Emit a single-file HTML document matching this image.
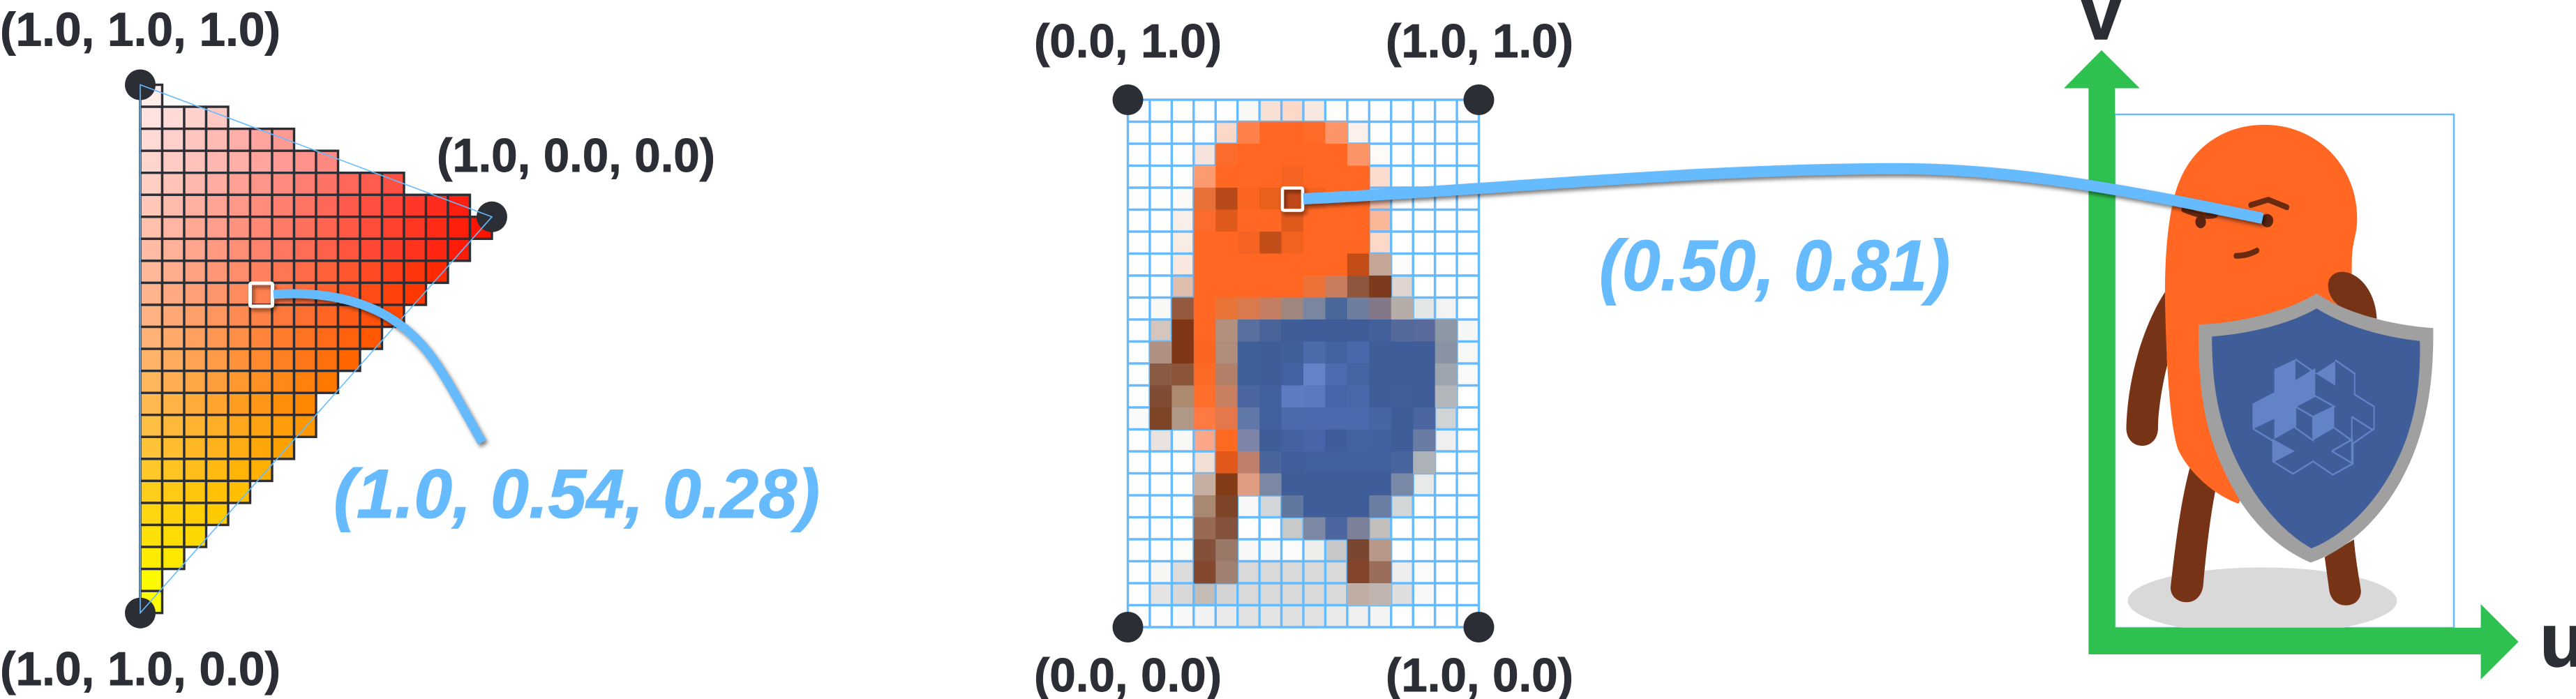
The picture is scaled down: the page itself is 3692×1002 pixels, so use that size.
<!DOCTYPE html>
<html lang="en">
<head>
<meta charset="utf-8">
<title>UV interpolation diagram</title>
<style>
html,body{margin:0;padding:0;background:#fff;}
svg{display:block;}
text{font-family:"Liberation Sans",sans-serif;font-weight:bold;}
.lab{font-size:68px;fill:#2C2E35;stroke:#2C2E35;stroke-width:.9px;}
.blue{font-style:italic;fill:#66BBFF;stroke:#66BBFF;stroke-width:1px;}
.axl{fill:#2C2E35;stroke:#2C2E35;stroke-width:1.5px;}
</style>
</head>
<body>
<svg id="root" xmlns="http://www.w3.org/2000/svg" width="3692" height="1002" viewBox="0 0 3692 1002">
<rect width="3692" height="1002" fill="#fff"/>
<g id="tri"></g>
<g id="pix"></g>

<g>
  <rect x="3031" y="164" width="486" height="736" fill="none" stroke="#66BBFF" stroke-width="2.5"/>
  <g transform="translate(2900,0) scale(0.50505,0.63898)">
    <ellipse cx="678" cy="1348" rx="382" ry="75" fill="#D9D9D9"/>
    <path fill="#763316" d="M402 655C340 730 295 850 292 960C292 985 312 1000 337 1000C362 1000 382 985 382 960C382 920 395 860 408 820Z"/>
    <path fill="#763316" d="M472 1050C445 1130 430 1230 418 1315C415 1335 435 1351 463 1351C490 1351 506 1335 510 1315C518 1240 530 1160 545 1100Z"/>
    <path fill="#763316" d="M855 1250L868 1325C872 1345 890 1358 915 1358C945 1358 962 1340 957 1320C950 1285 942 1250 938 1210Z"/>
    <path fill="#FF6723" d="M432 430C470 330 570 280 685 280C830 280 947 370 947 490C947 530 932 540 932 590L930 700L610 1130C540 1110 470 1060 440 1010C415 960 405 800 402 680C400 580 410 490 432 430Z"/>
    <path fill="#763316" d="M865 645C862 620 885 608 910 610C960 615 1000 660 1003 715L920 700C890 685 868 670 865 645Z"/>
    <g fill="none" stroke="#6A2A10" stroke-linecap="round">
      <path d="M455 470C480 478 520 490 545 482" stroke-width="13"/>
      <path d="M645 460L695 448L748 465" stroke-width="13"/>
      <path d="M603 574C625 574 645 570 663 562" stroke-width="13"/>
      <ellipse cx="503" cy="498" rx="15" ry="14" fill="#5A2410" stroke="none"/>
      <ellipse cx="692" cy="495" rx="17" ry="15" fill="#5A2410" stroke="none"/>
    </g>
    <g>
      <path fill="#A0A0A0" d="M832 658C760 695 620 725 497 728C495 900 520 1000 620 1130C680 1200 750 1240 815 1262C900 1240 1000 1180 1070 1080C1140 980 1165 870 1163 736C1040 730 910 700 832 658Z"/>
      <path fill="#3F5D98" d="M832 692C760 725 650 748 535 755C535 880 560 980 640 1085C690 1150 750 1200 817 1230C900 1205 990 1140 1050 1050C1110 960 1128 870 1125 765C1010 755 910 730 832 692Z"/>
      <g>
        <polygon fill="#6383C8" points="652,905 712,880 712,828 772,806 772,853 828,826 828,888 772,912 772,958 712,985 712,940 652,962"/>
        <polygon fill="#6383C8" points="830,838 885,810 885,865"/>
        <polygon fill="#6383C8" points="708,985 770,1012 708,1038"/>
        <polygon fill="#6383C8" points="822,935 882,912 882,960 822,988"/>
        <path fill="none" stroke="#6383C8" stroke-width="4" d="M772 806L830 838M885 808L940 838V885L995 912V962L935 995V1040L878 1065L822 1035L765 1063L708 1035V985M652 962L710 990M932 935L992 965M932 935V1040M875 1012L935 985M875 1012L935 1040M882 960L935 990M772 912L828 888L882 912L822 935ZM772 912V960L822 988V935M652 905V962"/>
      </g>
    </g>
  </g>
  <path fill="#2FC14F" d="M2993.4 938V126.5H2958L3012 72L3066.7 126.5H3031.3V899.7H3555.5V866L3609.6 920L3555.5 974V938Z"/>
  <text class="axl" x="2983" y="56" font-size="105" textLength="57" lengthAdjust="spacingAndGlyphs">v</text>
  <text class="axl" x="3640" y="955" font-size="108">u</text>
</g>

<g>
  <text class="lab" x="0" y="65.5" textLength="402" lengthAdjust="spacingAndGlyphs">(1.0, 1.0, 1.0)</text>
  <text class="lab" x="626" y="246" textLength="399" lengthAdjust="spacingAndGlyphs">(1.0, 0.0, 0.0)</text>
  <text class="lab" x="0" y="982" textLength="402" lengthAdjust="spacingAndGlyphs">(1.0, 1.0, 0.0)</text>
  <text class="blue" x="478" y="742" font-size="99" textLength="697" lengthAdjust="spacingAndGlyphs">(1.0, 0.54, 0.28)</text>
</g>
<g>
  <text class="lab" x="1482" y="82" textLength="269" lengthAdjust="spacingAndGlyphs">(0.0, 1.0)</text>
  <text class="lab" x="1986" y="82" textLength="269" lengthAdjust="spacingAndGlyphs">(1.0, 1.0)</text>
  <text class="lab" x="1482" y="991" textLength="269" lengthAdjust="spacingAndGlyphs">(0.0, 0.0)</text>
  <text class="lab" x="1986" y="991" textLength="269" lengthAdjust="spacingAndGlyphs">(1.0, 0.0)</text>
  <text class="blue" x="2292" y="416" font-size="103" textLength="503" lengthAdjust="spacingAndGlyphs">(0.50, 0.81)</text>
</g>

<g fill="none" stroke="#66BBFF" style="filter:drop-shadow(3px 4px 3px rgba(0,0,0,.5))">
  <rect x="358.5" y="406" width="32" height="33" rx="2" stroke="#fff" stroke-width="5"/>
  <rect x="1838" y="269.5" width="29" height="32" rx="2" stroke="#fff" stroke-width="4.5"/>
  <path stroke-width="13" d="M392 422C450 418 520 425 574 466C620 500 640 545 691 634"/>
  <path stroke-width="16" d="M1868 285C2150 272 2450 240 2740 242C2900 244 3060 275 3243 313"/>
</g>
</svg>

<script>
const NS = 'http://www.w3.org/2000/svg';

/* ---- color triangle data ---- */
const triRowCells = [1,4,7,9,12,15,16,15,14,13,12,11,10,9,8,8,7,6,5,4,3,2,1,1];
const triLeftColors = ['FFEDEA','FFE3E0','FFDAD6','FFD5CE','FFCFC4','FFC8B8','FFC0AC','FFBBA3','FFB89A','FFB48E','FFB282','FFB276','FFB46A','FFB75E','FFB950','FFBE44','FFC238','FFC82A','FFCE1C','FFD610','FFE008','FFEC00','FFFA00','FFFF00'];
const triRightColors = ['FFEDEA','FFC9C3','FF9A92','FF8880','FF5044','FF1F10','FF1400','FF1C08','FF2A00','FF3800','FF4800','FF5800','FF6600','FF7800','FF8800','FF9800','FFA200','FFB000','FFBE00','FFCA00','FFD800','FFE800','FFFA00','FFFF00'];
const triVertices = [[0,0],[16,6],[0,24]];

/* ---- texture texels: "_" white, "O" character orange ---- */
const texelRows = [
'_ _ _ _ _ F8F8F5 F9E0D5 FCD8C8 F9E8E0 FDFDFA _ _ _ _ _ _',
'_ _ _ _ FCD8C8 FF8048 O O FF6C2A FE9568 FBF0EA _ _ _ _ _',
'_ _ _ F6E4DC FB6B2B O O O O O FC9466 FDFBF8 _ _ _ _',
'_ _ _ FC9A70 O O O F56422 O O O FCDCCC _ _ _ _',
'_ _ FBFAF8 E67038 B84A1A FA6520 E8601C C0491A F4631F O O FAC0A8 _ _ _ _',
'_ _ F9EEE8 FB6C2C E05A1C O O E05A1C O O O FCB698 _ _ _ _',
'_ _ F9ECE4 O O F56422 C24E1A F2621F O O O FBD8C8 _ _ _ _',
'_ _ F9E8E0 O O O O O O O C44D17 C4A596 FCFCFA _ _ _',
'_ _ DFBDAD O O O O O EC7238 C87D5E 8E563C 7D3A1C E0D5CF _ _ _',
'_ F8F8F6 955A3E O E97437 D97A4E C47F62 A0877E 7A86A0 4A6799 6D7E9E 84778A B5ACA8 E4E6E6 F2F3F2 _',
'_ D2C6BE 7F3617 O B3907E 59709F 4A649A 3F5D97 3F5C98 3F5C98 3F5C98 42609A 55699B 58699A 8C98A4 F5F7F5',
'_ B09080 7F3617 FA6621 B08C7C 40609A 3F5D97 40609A 4A6AAA 4362A0 4A69AC 3F5D98 3F5D98 3F5D98 8894A4 F6F8F6',
'_ 8A5A42 8A5538 FA6A25 B27F68 40609A 3F5D98 4362A4 6382C8 4C6BB0 4464A4 3F5D98 3F5D98 3F5D98 9CA4AE FAFAF8',
'_ 804C34 AE8A70 FF6E2A C88060 4A65A0 4060A0 5C7CC4 5A7AC0 4566AA 4868AC 3F5D98 405E9A 3F5D98 B2B6BA _',
'FAFAFA 7E4426 B09888 FF7A42 E5784A 5F78A8 40609E 4C6AAE 4C6AB0 4C6AB0 4A69AE 4565A4 3F5D98 4A65A0 D0D4D4 _',
'_ E9E2DE F8F8F6 FCA888 FC6A22 7C84A8 3F5D98 4462A2 4765A8 3F5D9A 4262A0 4161A0 3F5D98 6A7CA4 EEEFEE _',
'_ _ _ F2E0D4 E2571A BE806A 4A659C 405E9C 41609E 41609E 41609E 41609E 48649C ADB1B8 _ _',
'_ _ _ C6AFA2 843C18 E09C80 7A88A6 3F5D98 3F5D98 3F5D98 3F5D98 3F5D98 7A88A8 E8EAEA _ _',
'_ _ _ A98872 7E4428 F8F8F8 D2D6D8 6078A0 3F5D98 3F5D98 3F5D98 6A7EA4 D2D6D6 _ _ _',
'_ _ _ 986A54 84523C _ FDFDFC C8CACA 7C88A4 4C67A0 7C8098 C4BEBA _ _ _ _',
'_ _ FBFBFA 85503A 9A7868 F8F8F8 F8F8F8 FCFCFC EEEEEA C8C8C8 7A4630 B89888 _ _ _ _',
'_ F6F6F4 DCDCDC 84482E A08070 D9D9D9 D9D9D9 D9D9D9 D9D9D9 D9D9D9 84452C 9A6E5A EDEDED FBFBFB _ _',
'_ E4E4E4 D8D8D8 C4BCB6 D4D4D4 D9D9D9 D9D9D9 D9D9D9 D9D9D9 D9D9D9 C0AEA4 C0B4AE DEDEDE F8F8F8 _ _',
'_ _ F9F9F9 F2F2F2 EAEAEA E2E2E2 E4E4E4 E0E0E0 E2E2E2 EAEAEA F0F0F0 F4F4F4 FDFDFD _ _ _'
];
const uvCorners = [[0,0],[1,0],[0,1],[1,1]];

/* ---- axis functions ---- */
const triX = c => 201 + c * 31.5;
const triY = r => 121.5 + r * 31.55;
const texX = c => 1616.5 + c * 31.44;
const texY = r => 143 + r * 31.5;
const uvX = u => 1616.5 + u * 503;
const uvY = v => 899 - v * 756;

function hex(h){return [parseInt(h.slice(0,2),16),parseInt(h.slice(2,4),16),parseInt(h.slice(4,6),16)];}
function mix(a,b,t){const p=hex(a),q=hex(b);return 'rgb('+p.map((v,i)=>Math.round(v+(q[i]-v)*t)).join(',')+')';}
function make(tag,parent,attrs){const el=document.createElementNS(NS,tag);for(const k in attrs)el.setAttribute(k,attrs[k]);parent.appendChild(el);return el;}
function dot(parent,cx,cy){
  const d=make('circle',parent,{cx:cx,cy:cy,r:22,fill:'#2C2E35'});
  
  
}

/* ---- triangle ---- */
const tri=document.getElementById('tri');
triRowCells.forEach((n,r)=>{
  for(let c=0;c<n;c++){
    const cell=make('rect',tri,{x:triX(c),y:triY(r),width:31.5,height:31.55,fill:mix(triLeftColors[r],triRightColors[r],n>1?c/(n-1):0),stroke:'#2C2E35','stroke-width':3.4});
    
    
  }
});
triVertices.forEach(v=>dot(tri,triX(v[0]),triY(v[1])));
const triLine=make('polygon',tri,{points:triVertices.map(v=>triX(v[0])+','+triY(v[1])).join(' '),fill:'none',stroke:'#66BBFF','stroke-width':1.6});



/* ---- texel grid ---- */
const pix=document.getElementById('pix');
const parsed=texelRows.map(s=>s.split(' ').map(t=>t==='O'?'FF6723':t));
function lum(h){const p=hex(h);return .3*p[0]+.59*p[1]+.11*p[2];}
parsed.forEach((row,r)=>row.forEach((h,c)=>{
  if(h!=='_'&&lum(h)>=185){
    const t=make('rect',pix,{x:texX(c),y:texY(r),width:31.44,height:31.5,fill:'#'+h});
    
    
  }
}));
for(let c=0;c<=16;c++){
  const l=make('line',pix,{x1:texX(c),x2:texX(c),y1:texY(0),y2:texY(24),stroke:'#66BBFF','stroke-width':3.4});
  
  
}
for(let r=0;r<=24;r++){
  const l=make('line',pix,{x1:texX(0),x2:texX(16),y1:texY(r),y2:texY(r),stroke:'#66BBFF','stroke-width':3.4});
  
  
}
parsed.forEach((row,r)=>row.forEach((h,c)=>{
  if(h!=='_'&&lum(h)<185){
    const t=make('rect',pix,{x:texX(c),y:texY(r),width:31.9,height:32,fill:'#'+h});
    
    
  }
}));
uvCorners.forEach(v=>dot(pix,uvX(v[0]),uvY(v[1])));
</script>
</body>
</html>
